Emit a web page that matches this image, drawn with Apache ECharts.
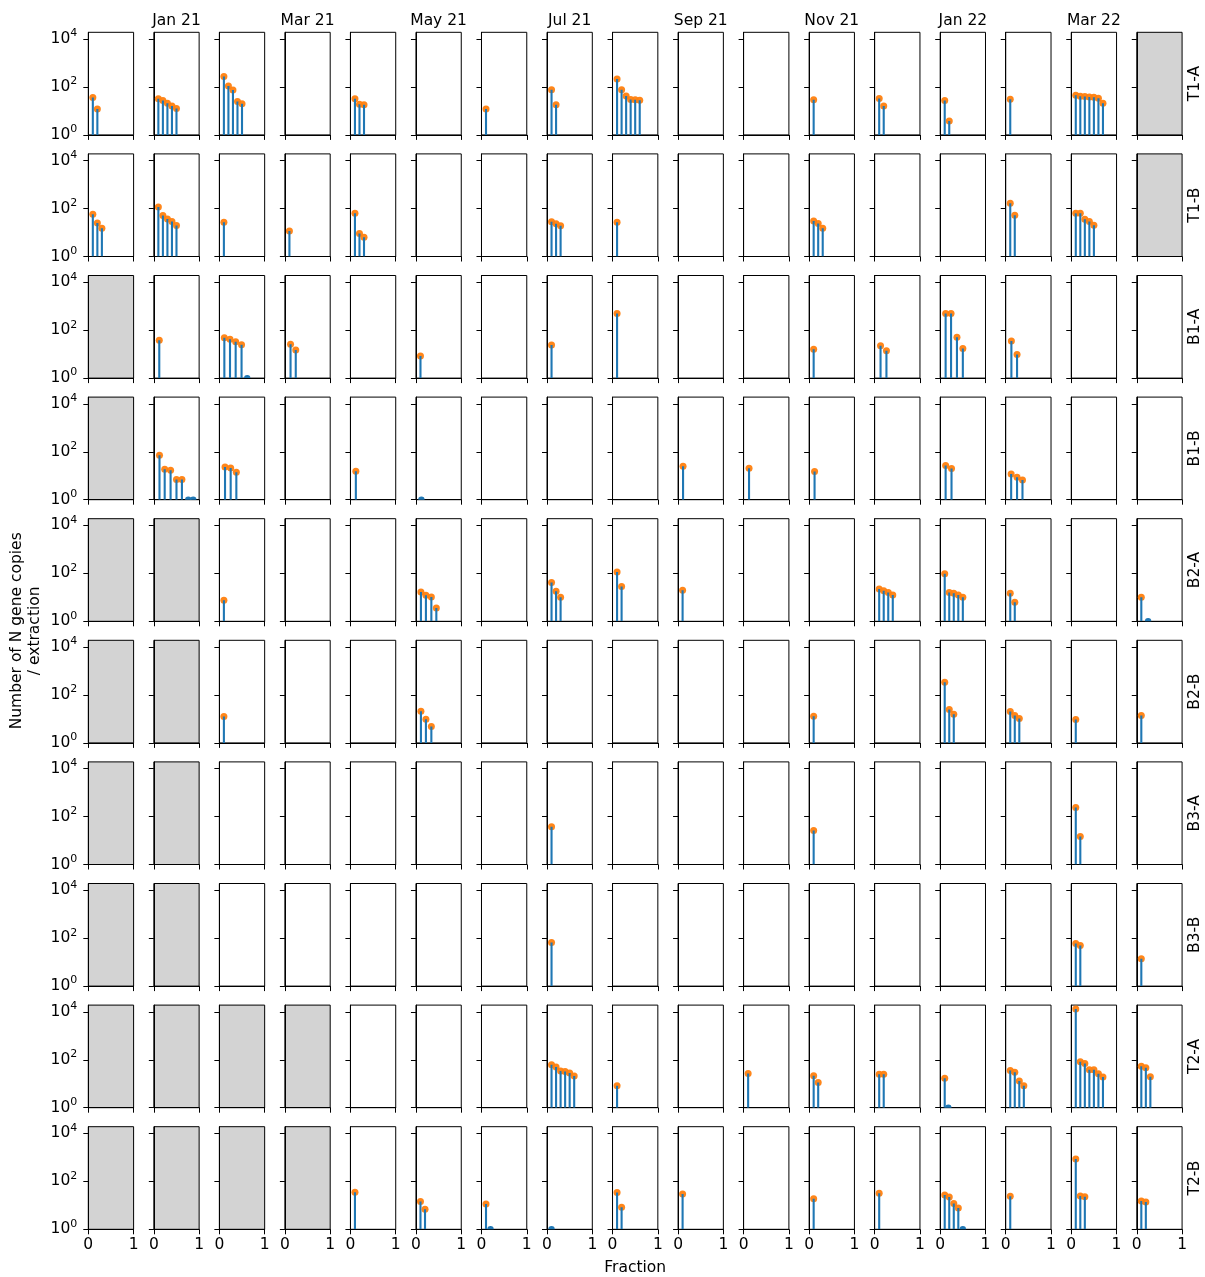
<!DOCTYPE html>
<html>
<head>
<meta charset="utf-8">
<script src="https://cdn.jsdelivr.net/npm/echarts@6/dist/echarts.min.js"></script>
<style>
html,body{margin:0;padding:0;background:#fff;}
#chart{width:1205px;height:1277px;}
</style>
</head>
<body>
<div id="chart"></div>
<script>
// ---------------- data ----------------
// Each site: 17 monthly panels. null = no sample (grey panel), [] = nothing detected.
// Each point: [fraction, N gene copies / extraction]; 0 copies = non-detect (blue dot at baseline).
const months = ['Dec 20','Jan 21','Feb 21','Mar 21','Apr 21','May 21','Jun 21','Jul 21','Aug 21',
                'Sep 21','Oct 21','Nov 21','Dec 21','Jan 22','Feb 22','Mar 22','Apr 22'];
const sites = ['T1-A','T1-B','B1-A','B1-B','B2-A','B2-B','B3-A','B3-B','T2-A','T2-B'];
const yTickExponents = [0, 2, 4];
const xTickValues = [0, 1];

const T1_A = [
  [[0.1,36],[0.2,12]],
  [[0.1,32],[0.2,27],[0.3,21],[0.4,16],[0.5,12.6]],
  [[0.1,270],[0.2,110],[0.3,75],[0.4,25],[0.5,20]],
  [],
  [[0.1,32],[0.2,19],[0.3,18]],
  [],
  [[0.1,12]],
  [[0.1,77],[0.2,18]],
  [[0.1,215],[0.2,77],[0.3,42],[0.4,30],[0.5,29],[0.6,28]],
  [], [],
  [[0.1,29]],
  [[0.1,33],[0.2,16]],
  [[0.1,27],[0.2,3.8]],
  [[0.1,31]],
  [[0.1,45],[0.2,41],[0.3,40],[0.4,38],[0.5,37],[0.6,34],[0.7,21]],
  null
];
const T1_B = [
  [[0.1,58],[0.2,25],[0.3,15]],
  [[0.1,117],[0.2,51],[0.3,37],[0.4,29],[0.5,19.5]],
  [[0.1,27]],
  [[0.1,11.7]],
  [[0.1,63],[0.2,9],[0.3,6.3]],
  [], [],
  [[0.1,28],[0.2,23],[0.3,19]],
  [[0.1,27]],
  [], [],
  [[0.1,30],[0.2,24],[0.3,15]],
  [], [],
  [[0.1,166],[0.2,52]],
  [[0.1,63],[0.2,63],[0.3,36],[0.4,29],[0.5,20]],
  null
];
const B1_A = [
  null,
  [[0.12,38]],
  [[0.11,48],[0.235,42],[0.36,33],[0.49,24.5],[0.615,0]],
  [[0.125,26],[0.24,14.7]],
  [],
  [[0.1,8.3]],
  [],
  [[0.1,24]],
  [[0.1,500]],
  [], [],
  [[0.1,16]],
  [[0.13,22.6],[0.26,13.8]],
  [[0.12,500],[0.24,500],[0.37,51],[0.5,17]],
  [[0.125,35],[0.25,9.7]],
  [], []
];
const B1_B = [
  null,
  [[0.125,71],[0.24,18.7],[0.37,17],[0.5,6.9],[0.62,6.9],[0.76,0],[0.87,0]],
  [[0.125,23],[0.25,21],[0.375,14]],
  [],
  [[0.12,15.4]],
  [[0.12,0]],
  [], [], [],
  [[0.11,25]],
  [[0.12,20.5]],
  [[0.12,15]],
  [],
  [[0.12,27],[0.25,20]],
  [[0.12,11.7],[0.25,8.6],[0.37,6.6]],
  [], []
];
const B2_A = [
  null, null,
  [[0.1,7.5]],
  [], [],
  [[0.11,16.6],[0.22,12.1],[0.34,10.3],[0.45,3.6]],
  [],
  [[0.1,42],[0.2,18],[0.3,10]],
  [[0.1,113],[0.2,28]],
  [[0.1,19.6]],
  [], [],
  [[0.1,22],[0.2,19],[0.3,16],[0.4,12.5]],
  [[0.1,97],[0.2,16],[0.3,14.7],[0.4,12.5],[0.5,10]],
  [[0.1,14.7],[0.2,6.2]],
  [],
  [[0.1,10],[0.25,0]]
];
const B2_B = [
  null, null,
  [[0.1,12.7]],
  [], [],
  [[0.11,21],[0.22,9.6],[0.34,4.8]],
  [], [], [], [], [],
  [[0.1,12.8]],
  [],
  [[0.1,335],[0.2,24.5],[0.3,15.5]],
  [[0.1,20.5],[0.2,14],[0.3,10.5]],
  [[0.1,9.5]],
  [[0.1,14]]
];
const B3_A = [
  null, null,
  [], [], [], [], [],
  [[0.1,38]],
  [], [], [],
  [[0.1,26]],
  [], [], [],
  [[0.1,237],[0.2,14.7]],
  []
];
const B3_B = [
  null, null,
  [], [], [], [], [],
  [[0.1,66]],
  [], [], [], [], [], [], [],
  [[0.1,60],[0.2,49]],
  [[0.1,14]]
];
const T2_A = [
  null, null, null, null,
  [], [], [],
  [[0.1,62],[0.2,50],[0.3,34],[0.4,32],[0.5,28],[0.6,21]],
  [[0.1,8.3]],
  [],
  [[0.1,27]],
  [[0.1,21.5],[0.2,11.3]],
  [[0.1,25],[0.2,25]],
  [[0.1,17],[0.18,0]],
  [[0.1,36],[0.2,30],[0.3,13],[0.4,8.2]],
  [[0.1,13200],[0.2,82],[0.3,70],[0.4,38],[0.5,38],[0.6,26],[0.7,19]],
  [[0.1,53],[0.2,46],[0.3,19.5]]
];
const T2_B = [
  null, null, null, null,
  [[0.1,35]],
  [[0.1,14.3],[0.2,6.8]],
  [[0.1,11.4],[0.2,0]],
  [[0.1,0]],
  [[0.1,34],[0.2,8.3]],
  [[0.1,30]],
  [],
  [[0.1,19]],
  [[0.1,32]],
  [[0.1,27],[0.2,22.5],[0.3,11.8],[0.4,7.7],[0.5,0]],
  [[0.1,24]],
  [[0.1,850],[0.2,24.5],[0.3,23]],
  [[0.1,15],[0.2,13.8]]
];
const siteData = [T1_A, T1_B, B1_A, B1_B, B2_A, B2_B, B3_A, B3_B, T2_A, T2_B];

// ---------------- layout / style ----------------
const LEFT = 88.3, TOP = 32.3, DX = 65.53, DY = 121.6, W = 45.3, H = 102.6;
const Y_TOP_LOG = 4.28;             // axis upper limit, log10 units
const BLUE = '#1f77b4', ORANGE = '#ff7f0e', GREY = '#d3d3d3';
const FONT = 'DejaVu Sans';
const FS = 15.5;

function renderStem(params, api) {
  const f = api.value(0), ly = api.value(1), det = api.value(2);
  const base = api.coord([f, 0]);
  if (!det) {
    return {type: 'circle', shape: {cx: base[0], cy: base[1], r: 3.2}, style: {fill: BLUE}};
  }
  const top = api.coord([f, ly]);
  return {type: 'group', children: [
    {type: 'circle', shape: {cx: top[0], cy: top[1], r: 3.5}, style: {fill: ORANGE, opacity: 0.95}},
    {type: 'line', shape: {x1: base[0], y1: base[1], x2: top[0], y2: top[1]},
     style: {stroke: BLUE, lineWidth: 2.1}}
  ]};
}

const grids = [], xAxes = [], yAxes = [], series = [];
const nRows = sites.length;
siteData.forEach((row, r) => {
  row.forEach((cell, c) => {
    const idx = grids.length;
    grids.push({
      left: LEFT + c * DX, top: TOP + r * DY, width: W, height: H,
      show: true, borderColor: '#000', borderWidth: 1,
      backgroundColor: cell === null ? GREY : 'rgba(0,0,0,0)'
    });
    xAxes.push({
      gridIndex: idx, type: 'value', min: 0, max: 1, interval: 1,
      axisLine: {show: true, onZero: false, lineStyle: {color: '#000', width: 1}},
      splitLine: {show: false},
      axisTick: {show: true, length: 5, inside: false, customValues: xTickValues,
                 lineStyle: {color: '#000', width: 1}},
      axisLabel: {show: r === nRows - 1, customValues: xTickValues, margin: 8,
                  fontSize: FS, fontFamily: FONT, color: '#000',
                  formatter: v => String(v)}
    });
    yAxes.push({
      gridIndex: idx, type: 'value', min: 0, max: Y_TOP_LOG, interval: 2,
      axisLine: {show: true, onZero: false, lineStyle: {color: '#000', width: 1}},
      splitLine: {show: false},
      axisTick: {show: true, length: 5, inside: false, customValues: yTickExponents,
                 lineStyle: {color: '#000', width: 1}},
      axisLabel: {show: c === 0, customValues: yTickExponents, margin: 11,
                  fontFamily: FONT, color: '#000',
                  formatter: v => '{b|10}{s|' + v + '}',
                  rich: {
                    b: {fontSize: FS, fontFamily: FONT, color: '#000', lineHeight: 22},
                    s: {fontSize: 11, fontFamily: FONT, color: '#000', lineHeight: 11, verticalAlign: 'top'}
                  }}
    });
    if (cell && cell.length) {
      series.push({
        type: 'custom', xAxisIndex: idx, yAxisIndex: idx, clip: true,
        renderItem: renderStem,
        encode: {x: 0, y: 1},
        data: cell.map(([f, v]) => [f, v > 0 ? Math.log10(v) : 0, v > 0 ? 1 : 0])
      });
    }
  });
});

// texts
const graphics = [];
const txt = (text, x, y, rot, extra) => ({type: 'text', x: x, y: y, rotation: rot || 0,
  style: Object.assign({text: text, fontSize: FS, fontFamily: FONT, fill: '#000',
    align: 'center', verticalAlign: 'middle', textAlign: 'center', textVerticalAlign: 'middle'}, extra || {})});
months.forEach((m, c) => {
  if (c % 2 === 1) graphics.push(txt(m, LEFT + c * DX + W / 2, 20.5));
});
sites.forEach((s, r) => {
  graphics.push(txt(s, 1195, TOP + r * DY + H / 2, Math.PI / 2));
});
graphics.push(txt('Number of N gene copies\n/ extraction', 26, TOP + ((nRows - 1) * DY + H) / 2,
  Math.PI / 2, {lineHeight: 18.5}));
graphics.push(txt('Fraction', LEFT + (16 * DX + W) / 2, 1268));

const chart = echarts.init(document.getElementById('chart'), null, {renderer: 'canvas'});
chart.setOption({
  animation: false,
  backgroundColor: '#fff',
  grid: grids,
  xAxis: xAxes,
  yAxis: yAxes,
  series: series,
  graphic: graphics
});
</script>
</body>
</html>
